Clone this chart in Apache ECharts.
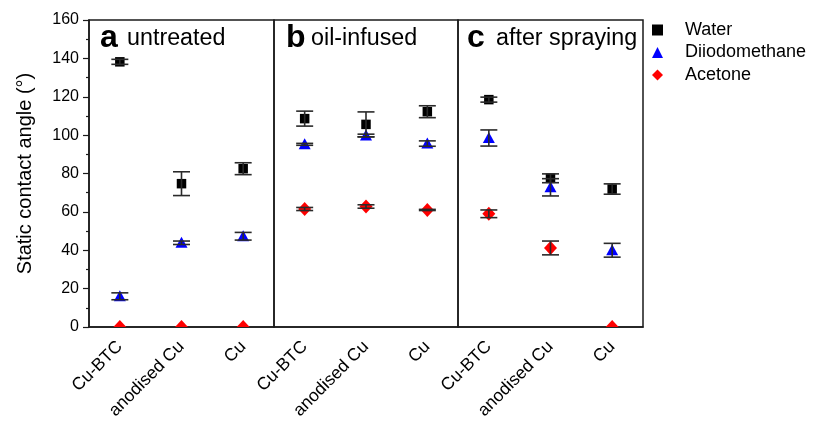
<!DOCTYPE html>
<html>
<head>
<meta charset="utf-8">
<script src="https://cdn.jsdelivr.net/npm/echarts@6/dist/echarts.min.js"></script>
<style>
  html, body { margin: 0; background: #fff; }
  #chart { width: 813px; height: 426px; }
</style>
</head>
<body>
<div id="chart"></div>
<script>
// categories per panel
const categories = ['Cu-BTC', 'anodised Cu', 'Cu']
const panelLetters = ['a', 'b', 'c']
const panelNames = ['untreated', 'oil-infused', 'after spraying']
const seriesNames = ['Water', 'Diiodomethane', 'Acetone']

// contact angle (°) per panel: [Cu-BTC, anodised Cu, Cu]
const waterAngle = [[138.2, 74.7, 82.5], [108.6, 105.6, 112.2], [118.5, 77.5, 71.9]]
const waterErr = [[1.3, 6.2, 3.1], [3.9, 6.5, 3.1], [1.3, 2.3, 2.7]]
const diiodoAngle = [[16.0, 43.9, 47.3], [95.2, 99.8, 95.6], [98.5, 72.8, 40.0]]
const diiodoErr = [[1.8, 0.9, 2.0], [0.5, 0.7, 1.4], [4.2, 4.5, 3.6]]
const acetoneAngle = [[0, 0, 0], [61.5, 62.8, 61.0], [59.0, 41.2, 0]]
const acetoneErr = [[0, 0, 0], [0.8, 0.9, 0.3], [2.0, 3.6, 0]]

const FONT = 'Arial, "Liberation Sans", sans-serif'
const AXIS_COLOR = '#1a1a1a'
const ERR_COLOR = '#2a2a2a'

const grids = [
  { left: 89, top: 20, width: 185, height: 307 },
  { left: 274, top: 20, width: 184, height: 307 },
  { left: 458, top: 20, width: 185, height: 307 },
].map(g => ({ ...g, show: true, borderColor: AXIS_COLOR, borderWidth: 1.5 }))

const xAxis = grids.map((g, i) => ({
  type: 'category',
  gridIndex: i,
  data: categories,
  boundaryGap: true,
  axisLine: { lineStyle: { color: AXIS_COLOR, width: 1.5 } },
  axisTick: { alignWithLabel: true, length: 6, lineStyle: { color: AXIS_COLOR, width: 1.2 } },
  axisLabel: { rotate: 45, margin: 17, fontSize: 17.5, color: '#000', fontFamily: FONT, interval: 0 },
  splitLine: { show: false },
}))

const yAxis = grids.map((g, i) => ({
  type: 'value',
  gridIndex: i,
  min: 0,
  max: 160,
  interval: 20,
  show: i === 0,
  name: i === 0 ? 'Static contact angle (°)' : '',
  nameLocation: 'middle',
  nameGap: 54,
  nameTextStyle: { fontSize: 20, color: '#000', fontFamily: FONT },
  axisLine: { show: true, lineStyle: { color: AXIS_COLOR, width: 1.5 } },
  axisTick: { show: true, length: 6, lineStyle: { color: AXIS_COLOR, width: 1.2 } },
  minorTick: { show: true, splitNumber: 2, length: 3, lineStyle: { color: AXIS_COLOR, width: 1.2 } },
  axisLabel: { fontSize: 16, color: '#000', fontFamily: FONT, margin: 10 },
  splitLine: { show: false },
}))

// marker shapes, centred on the data point
function markerShape(kind, x, y, color) {
  if (kind === 'rect') {
    const s = 9.5
    return { type: 'rect', shape: { x: x - s / 2, y: y - s / 2, width: s, height: s }, style: { fill: color } }
  }
  if (kind === 'triangle') {
    return { type: 'polygon', shape: { points: [[x, y - 6], [x + 6, y + 5], [x - 6, y + 5]] }, style: { fill: color } }
  }
  return { type: 'polygon', shape: { points: [[x, y - 7], [x + 6.5, y], [x, y + 7], [x - 6.5, y]] }, style: { fill: color } }
}

const kinds = ['rect', 'triangle', 'diamond']
const colors = ['#000000', '#0000ff', '#ff0000']
const means = [waterAngle, diiodoAngle, acetoneAngle]
const errs = [waterErr, diiodoErr, acetoneErr]

const series = []
grids.forEach((g, gi) => {
  seriesNames.forEach((name, si) => {
    series.push({
      name,
      type: 'custom',
      xAxisIndex: gi,
      yAxisIndex: gi,
      clip: true,
      z: 2,
      itemStyle: { color: colors[si] },
      data: means[si][gi].map((v, ci) => [ci, v]),
      renderItem: (params, api) => {
        const p = api.coord([api.value(0), api.value(1)])
        return markerShape(kinds[si], p[0], p[1], colors[si])
      },
    })
  })
  // error bars on top of the markers
  seriesNames.forEach((name, si) => {
    series.push({
      name: name + ' err',
      type: 'custom',
      xAxisIndex: gi,
      yAxisIndex: gi,
      clip: true,
      z: 3,
      silent: true,
      data: means[si][gi].map((v, ci) => [ci, v, errs[si][gi][ci]]),
      renderItem: (params, api) => {
        const e = api.value(2)
        if (!e) return { type: 'group', children: [] }
        const hi = api.coord([api.value(0), api.value(1) + e])
        const lo = api.coord([api.value(0), api.value(1) - e])
        const x = hi[0]
        const w = 8.5
        const st = { stroke: ERR_COLOR, lineWidth: 1.6 }
        return {
          type: 'group',
          children: [
            { type: 'line', shape: { x1: x, y1: hi[1], x2: x, y2: lo[1] }, style: st },
            { type: 'line', shape: { x1: x - w, y1: hi[1], x2: x + w, y2: hi[1] }, style: st },
            { type: 'line', shape: { x1: x - w, y1: lo[1], x2: x + w, y2: lo[1] }, style: st },
          ],
        }
      },
    })
  })
})

// panel headings
const headX = [[100, 127], [286, 311], [467, 496]]
const graphic = []
panelLetters.forEach((l, i) => {
  graphic.push({
    type: 'text', left: headX[i][0], top: 22, silent: true,
    style: { text: l, font: 'bold 32px ' + FONT, fill: '#000' },
  })
  graphic.push({
    type: 'text', left: headX[i][1], top: 27, silent: true,
    style: { text: panelNames[i], font: '23.3px ' + FONT, fill: '#000' },
  })
})

const chart = echarts.init(document.getElementById('chart'))
chart.setOption({
  animation: false,
  backgroundColor: '#fff',
  grid: grids,
  xAxis,
  yAxis,
  legend: {
    orient: 'vertical',
    left: 647,
    top: 16,
    itemWidth: 11,
    itemHeight: 11,
    itemGap: 4.5,
    data: [
      { name: 'Water', icon: 'rect' },
      { name: 'Diiodomethane', icon: 'triangle' },
      { name: 'Acetone', icon: 'diamond' },
    ],
    textStyle: { fontSize: 18, color: '#000', fontFamily: FONT, lineHeight: 18, padding: [0, 0, 0, 17] },
  },
  graphic,
  series,
})
</script>
</body>
</html>
